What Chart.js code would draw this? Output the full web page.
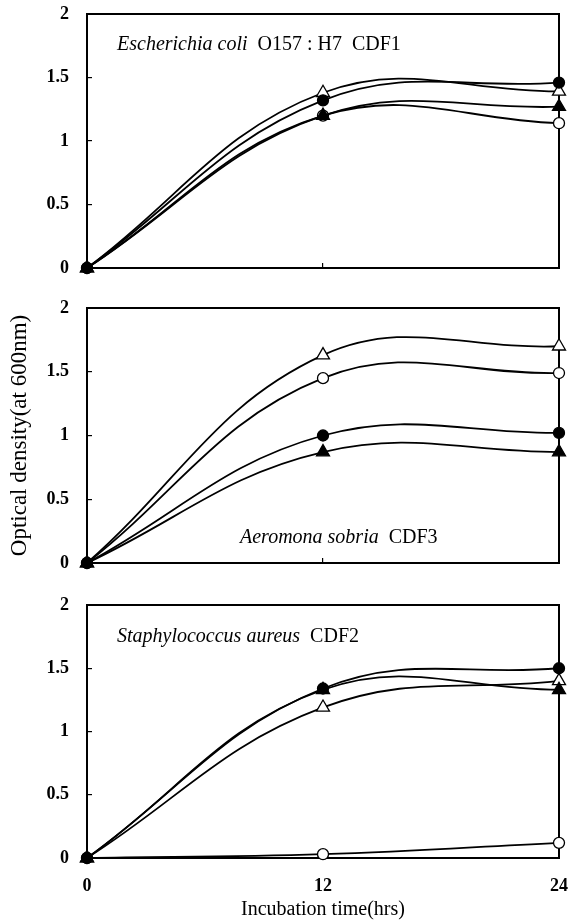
<!DOCTYPE html>
<html lang="en">
<head>
<meta charset="UTF-8" />
<title>Growth curves</title>
<script src="https://cdn.jsdelivr.net/npm/chart.js@4"></script>
<style>
  * { margin: 0; padding: 0; box-sizing: border-box; }
  body { background: #fff; width: 569px; height: 923px; position: relative; overflow: hidden; }
  canvas { position: absolute; left: 0; }
</style>
</head>
<body>
<canvas id="ecoli" width="569" height="290" style="top:0"></canvas>
<canvas id="aeromona" width="569" height="290" style="top:290px"></canvas>
<canvas id="staph" width="569" height="343" style="top:580px"></canvas>
<script>
// sampling times (hrs)
const hours = [0, 12, 24];

// Escherichia coli O157 : H7 CDF1
const ecoliName = "Escherichia coli";
const ecoliStrain = "O157 : H7  CDF1";
const ecoliFilledTriangle = [0, 1.20, 1.27];
const ecoliFilledCircle = [0, 1.32, 1.46];
const ecoliOpenTriangle = [0, 1.38, 1.39];
const ecoliOpenCircle = [0, 1.20, 1.14];

// Aeromona sobria CDF3
const aeroName = "Aeromona sobria";
const aeroStrain = "CDF3";
const aeroFilledTriangle = [0, 0.87, 0.87];
const aeroFilledCircle = [0, 1.00, 1.02];
const aeroOpenTriangle = [0, 1.63, 1.70];
const aeroOpenCircle = [0, 1.45, 1.49];

// Staphylococcus aureus CDF2
const staphName = "Staphylococcus aureus";
const staphStrain = "CDF2";
const staphFilledTriangle = [0, 1.33, 1.33];
const staphFilledCircle = [0, 1.34, 1.50];
const staphOpenTriangle = [0, 1.19, 1.40];
const staphOpenCircle = [0, 0.03, 0.12];

const yTicks = [0, 0.5, 1, 1.5, 2];
const xTicks = [0, 12, 24];
const yTitle = "Optical density(at 600nm)";
const xTitle = "Incubation time(hrs)";

const SERIF = '"Liberation Serif", "Times New Roman", serif';

// black frame around the plot area
const framePlugin = {
  id: "frame",
  beforeDatasetsDraw(chart) {
    const { ctx, chartArea: a } = chart;
    ctx.save();
    ctx.strokeStyle = "#000";
    ctx.lineWidth = 2;
    ctx.strokeRect(a.left, a.top, a.right - a.left, a.bottom - a.top);
    ctx.restore();
  }
};

// organism name (italic) + strain (upright) inside the panel
const captionPlugin = {
  id: "caption",
  afterDraw(chart, args, opts) {
    const { ctx, chartArea: a } = chart;
    const x = a.left + opts.dx;
    const y = opts.fromBottom ? a.bottom - opts.dy : a.top + opts.dy;
    ctx.save();
    ctx.fillStyle = "#000";
    ctx.textBaseline = "alphabetic";
    ctx.font = `italic 20px ${SERIF}`;
    ctx.fillText(opts.name, x, y);
    const w = ctx.measureText(opts.name + "  ").width;
    ctx.font = `20px ${SERIF}`;
    ctx.fillText(opts.strain, x + w, y);
    ctx.restore();
  }
};

function series(label, values, style, filled) {
  return {
    label,
    data: hours.map((h, i) => ({ x: h, y: values[i] })),
    borderColor: "#000",
    borderWidth: 1.8,
    tension: 0.4,
    clip: false,
    pointStyle: style,
    pointRadius: style === "triangle" ? 7.5 : 5.5,
    pointBackgroundColor: filled ? "#000" : "#fff",
    pointBorderColor: "#000",
    pointBorderWidth: 1.3
  };
}

function makePanel(id, sets, cfg) {
  new Chart(document.getElementById(id), {
    type: "line",
    data: {
      datasets: [
        series("filled triangle", sets[0], "triangle", true),
        series("filled circle", sets[1], "circle", true),
        series("open triangle", sets[2], "triangle", false),
        series("open circle", sets[3], "circle", false)
      ]
    },
    options: {
      responsive: false,
      animation: false,
      events: [],
      layout: { padding: cfg.padding },
      plugins: {
        legend: { display: false },
        tooltip: { enabled: false },
        caption: cfg.caption
      },
      scales: {
        x: {
          type: "linear",
          min: 0,
          max: 24,
          afterBuildTicks: (s) => { s.ticks = xTicks.map((v) => ({ value: v })); },
          ticks: {
            display: cfg.xLabels,
            color: "#000",
            padding: 23,
            maxRotation: 0,
            callback: (v) => String(v),
            font: { family: SERIF, size: 18, weight: "bold" }
          },
          grid: { drawOnChartArea: false, tickLength: -5, color: "#000", lineWidth: 1.2 },
          border: { display: false },
          title: {
            display: cfg.xLabels,
            text: xTitle,
            color: "#000",
            padding: { top: 0, bottom: 1 },
            font: { family: SERIF, size: 20 }
          },
          afterFit: (s) => {
            s.height = cfg.xHeight;
            s.paddingLeft = 0;
            s.paddingRight = 0;
          }
        },
        y: {
          min: 0,
          max: 2,
          afterBuildTicks: (s) => { s.ticks = yTicks.map((v) => ({ value: v })); },
          ticks: {
            color: "#000",
            padding: 23,
            callback: (v) => String(v),
            font: { family: SERIF, size: 18, weight: "bold" }
          },
          grid: { drawOnChartArea: false, tickLength: -5, color: "#000", lineWidth: 1.2 },
          border: { display: false },
          title: {
            display: cfg.yTitle,
            text: yTitle,
            color: "#000",
            padding: { top: 6, bottom: 0 },
            font: { family: SERIF, size: 23 }
          },
          afterFit: (s) => {
            s.width = 87;
            s.paddingTop = 0;
            s.paddingBottom = 0;
          }
        }
      }
    },
    plugins: [framePlugin, captionPlugin]
  });
}

makePanel("ecoli",
  [ecoliFilledTriangle, ecoliFilledCircle, ecoliOpenTriangle, ecoliOpenCircle],
  {
    padding: { top: 14, bottom: 22, left: 0, right: 10 },
    xLabels: false, yTitle: false, xHeight: 0,
    caption: { name: ecoliName, strain: ecoliStrain, dx: 30, dy: 36, fromBottom: false }
  });

makePanel("aeromona",
  [aeroFilledTriangle, aeroFilledCircle, aeroOpenTriangle, aeroOpenCircle],
  {
    padding: { top: 18, bottom: 17, left: 0, right: 10 },
    xLabels: false, yTitle: true, xHeight: 0,
    caption: { name: aeroName, strain: aeroStrain, dx: 153, dy: 20, fromBottom: true }
  });

makePanel("staph",
  [staphFilledTriangle, staphFilledCircle, staphOpenTriangle, staphOpenCircle],
  {
    padding: { top: 25, bottom: 0, left: 0, right: 10 },
    xLabels: true, yTitle: false, xHeight: 65,
    caption: { name: staphName, strain: staphStrain, dx: 30, dy: 37, fromBottom: false }
  });
</script>
</body>
</html>
